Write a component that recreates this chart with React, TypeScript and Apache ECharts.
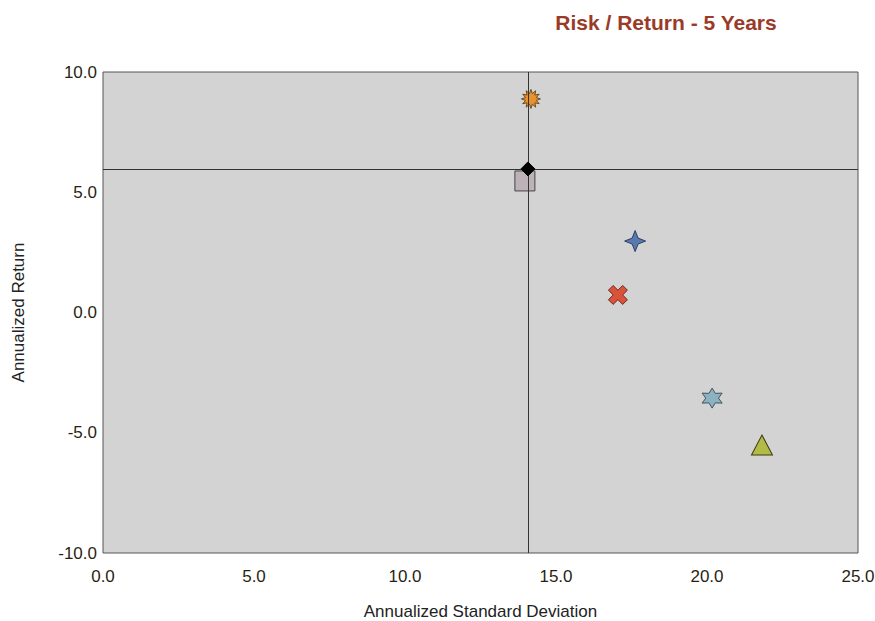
import React, { useEffect, useRef } from "react";
import * as echarts from "echarts";

const names = ["Orange", "Benchmark", "Square", "Blue", "Red", "LightBlue", "Green"];
const stdDev = [14.17, 14.07, 13.97, 17.62, 17.05, 20.17, 21.82];
const returns = [8.88, 5.97, 5.47, 2.97, 0.73, -3.56, -5.51];
const xTicks = [0, 5, 10, 15, 20, 25];
const yTicks = [-10, -5, 0, 5, 10];
const crossX = 14.07;
const crossY = 5.97;

function starPath(n: number, inner: number, rot = -Math.PI / 2) {
  const pts: string[] = [];
  for (let i = 0; i < n * 2; i++) {
    const r = i % 2 === 0 ? 1 : inner;
    const a = rot + (i * Math.PI) / n;
    pts.push(`${(r * Math.cos(a) * 100).toFixed(2)} ${(r * Math.sin(a) * 100).toFixed(2)}`);
  }
  return "path://M" + pts.join(" L") + " Z";
}

function crossPath(w: number) {
  const raw = [[-w, -1], [w, -1], [w, -w], [1, -w], [1, w], [w, w], [w, 1], [-w, 1], [-w, w], [-1, w], [-1, -w], [-w, -w]];
  const c = Math.cos(Math.PI / 4), s = Math.sin(Math.PI / 4);
  const pts = raw.map(([x, y]) => `${((x * c - y * s) * 100).toFixed(2)} ${((x * s + y * c) * 100).toFixed(2)}`);
  return "path://M" + pts.join(" L") + " Z";
}

const symbols = [starPath(12, 0.58), "diamond", "rect", starPath(4, 0.4), crossPath(0.33), starPath(6, 0.55), "triangle"];
const sizes = [[19, 19], [14, 14], [20, 20], [21, 21], [19, 19], [20, 20], [21, 20]];
const colors = ["#E8912D", "#000000", "#BDB2B8", "#5878B0", "#D9533B", "#8CB2C2", "#B3BA45"];
const borders = ["#6b4a20", "#000000", "#444444", "#2f4060", "#6b2a20", "#3f5660", "#3a3c10"];

export default function App() {
  const ref = useRef<HTMLDivElement>(null);
  useEffect(() => {
    const chart = echarts.init(ref.current!, null, { renderer: "svg" });
    const font = "'Liberation Sans Narrow', 'Arial Narrow', 'Liberation Sans', Arial, sans-serif";
    const series: any[] = names.map((n, i) => ({
      type: "scatter",
      name: n,
      data: [[stdDev[i], returns[i]]],
      symbol: symbols[i],
      symbolSize: sizes[i],
      z: i === 1 ? 5 : 3,
      itemStyle: { color: colors[i], borderColor: borders[i], borderWidth: 1, opacity: 1 },
    }));
    series.push({
      type: "scatter",
      data: [],
      silent: true,
      markLine: {
        silent: true,
        symbol: "none",
        label: { show: false },
        lineStyle: { color: "#333333", type: "solid", width: 1 },
        data: [{ xAxis: crossX }, { yAxis: crossY }],
      },
    });
    chart.setOption({
      animation: false,
      backgroundColor: "#ffffff",
      textStyle: { fontFamily: font },
      title: {
        text: "Risk / Return - 5 Years",
        left: 661,
        textAlign: "center",
        top: 7,
        textStyle: { color: "#9A3B28", fontSize: 21, fontWeight: "bold", fontFamily: font },
      },
      grid: {
        left: 103,
        right: 17,
        top: 72,
        bottom: 68,
        outerBoundsMode: "none",
        containLabel: false,
        show: true,
        backgroundColor: "#D3D3D3",
        borderColor: "#555555",
        borderWidth: 1,
      },
      xAxis: {
        type: "value",
        min: xTicks[0],
        max: xTicks[xTicks.length - 1],
        interval: 5,
        name: "Annualized Standard Deviation",
        nameLocation: "middle",
        nameGap: 50,
        nameTextStyle: { color: "#222222", fontSize: 17, fontFamily: font },
        axisLine: { show: false },
        axisTick: { show: false },
        splitLine: { show: false },
        axisLabel: {
          color: "#2a1f12",
          fontSize: 17,
          margin: 15,
          fontFamily: font,
          formatter: (v: number) => v.toFixed(1),
        },
      },
      yAxis: {
        type: "value",
        min: yTicks[0],
        max: yTicks[yTicks.length - 1],
        interval: 5,
        name: "Annualized Return",
        nameLocation: "middle",
        nameGap: 76,
        nameRotate: 90,
        nameTextStyle: { color: "#222222", fontSize: 17, fontFamily: font },
        axisLine: { show: false },
        axisTick: { show: false },
        splitLine: { show: false },
        axisLabel: {
          color: "#2a1f12",
          fontSize: 17,
          margin: 6,
          fontFamily: font,
          formatter: (v: number) => v.toFixed(1),
        },
      },
      series,
    });
    return () => chart.dispose();
  }, []);
  return <div ref={ref} style={{ width: 875, height: 621, position: "absolute", left: 0, top: 0 }} />;
}
